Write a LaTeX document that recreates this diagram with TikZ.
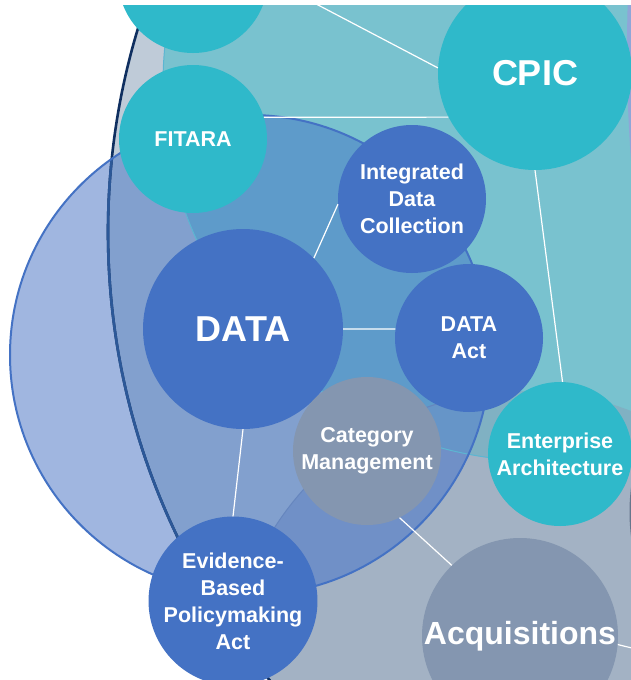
\documentclass[tikz,border=0pt]{standalone}
\usepackage{fontspec}
\setmainfont{Liberation Sans}

\definecolor{bigfill}{HTML}{BFCBD8}
\definecolor{grayfill}{HTML}{A3B2C4}
\definecolor{tealfill}{HTML}{79C2CF}
\definecolor{tealgray}{HTML}{80B1C3}
\definecolor{bluefill}{HTML}{A0B6E0}
\definecolor{bluebig}{HTML}{82A0CE}
\definecolor{blueteal}{HTML}{5E9BCA}
\definecolor{bluegray}{HTML}{7090C7}
\definecolor{bluetealgray}{HTML}{6695C8}
\definecolor{lavender}{HTML}{8FA6D8}
\definecolor{edgegray}{HTML}{66768C}
\definecolor{navyedge}{HTML}{0F2F60}
\definecolor{navyinblue}{HTML}{2C5898}
\definecolor{blueedge}{HTML}{4472C4}
\definecolor{tealedge}{HTML}{5CB6D2}
\definecolor{grayedge}{HTML}{6686BE}
\definecolor{tealnodefill}{HTML}{2FB9CA}
\definecolor{bluenodefill}{HTML}{4472C4}
\definecolor{graynodefill}{HTML}{8496B0}

\begin{document}
\begin{tikzpicture}[x=1pt, y=-1pt,
  every node/.style={font=\fontsize{21.5}{27}\selectfont\bfseries, text=white, align=center},
  bubble/.style={circle, inner sep=0pt, minimum size=148pt},
  tealnode/.style={bubble, fill=tealnodefill},
  bluenode/.style={bubble, fill=bluenodefill},
  graynode/.style={bubble, fill=graynodefill},
  linkline/.style={white, line width=1.2pt}]
  \useasboundingbox (0,0) rectangle (631,680);
  \fill[white] (0,0) rectangle (631,680);

  \begin{scope}
  \clip (0,5) rectangle (631,680);

  % outer set and the three overlapping sets
  \fill[bigfill] (810,232) circle (702pt);
  \begin{scope}
    \clip (810,232) circle (702pt);
    \fill[grayfill] (524,687) circle (296pt);
  \end{scope}
  \fill[tealfill] (540,84) circle (377pt);
  \begin{scope}
    \clip (540,84) circle (377pt);
    \fill[tealgray] (524,687) circle (296pt);
  \end{scope}
  \draw[tealedge, line width=1pt] (540,84) circle (377pt);

  % sets cut off at the right edge
  \fill[lavender] (2127,50) circle (1500pt);
  \fill[edgegray] (829.5,512) circle (200pt);

  % data set
  \fill[bluefill] (250,355) circle (240pt);
  \begin{scope}
    \clip (250,355) circle (240pt);
    \fill[bluebig] (810,232) circle (702pt);
    \fill[blueteal] (540,84) circle (377pt);
    \fill[bluegray] (524,687) circle (296pt);
    \begin{scope}
      \clip (540,84) circle (377pt);
      \fill[bluetealgray] (524,687) circle (296pt);
    \end{scope}
    \draw[tealedge, line width=1pt] (540,84) circle (377pt);
    \draw[grayedge, line width=1pt] (524,687) circle (296pt);
  \end{scope}

  % outer boundary
  \draw[navyedge, line width=2.6pt] (810,232) circle (702pt);
  \begin{scope}
    \clip (250,355) circle (240pt);
    \draw[navyinblue, line width=2.6pt] (810,232) circle (702pt);
  \end{scope}
  \draw[blueedge, line width=2pt] (250,355) circle (240pt);

  % bubbles
  \node[tealnode, minimum size=150pt] (topleft) at (193,-22) {};
  \node[tealnode] (fitara) at (193,139) {FITARA};
  \node[tealnode, minimum size=194pt, font=\fontsize{36}{40}\selectfont\bfseries] (cpic) at (535,73) {CPIC};
  \node[bluenode, minimum size=200pt, font=\fontsize{36}{40}\selectfont\bfseries] (data) at (243,329) {DATA};
  \node[bluenode] (idc) at (412,199) {Integrated\\Data\\Collection};
  \node[bluenode] (dataact) at (469,338) {DATA\\Act};
  \node[graynode] (catmgmt) at (367,451) {Category\\Management};
  \node[tealnode, minimum size=144pt] (ea) at (560,454) {Enterprise\\Architecture};
  \node[bluenode] (ebpa) at (233,601) {Evidence-\\Based\\Policymaking\\Act};
  \node[graynode, minimum size=196pt, font=\fontsize{32}{36}\selectfont\bfseries] (acq) at (520,636) {Acquisitions};

  % links
  \coordinate (topend) at (299,-5);
  \coordinate (acqend) at (640,650);
  \draw[linkline] (topend) -- (cpic.177);
  \draw[linkline] (fitara.17) -- (cpic.207);
  \draw[linkline] (cpic.south) -- (ea.88);
  \draw[linkline] (data.45) -- (idc.184);
  \draw[linkline] (data.east) -- (dataact.173);
  \draw[linkline] (data.south) -- (ebpa.north);
  \draw[linkline] (catmgmt.-64) -- (acq.134);
  \draw[linkline] (acq.-5) -- (acqend);
  \end{scope}
\end{tikzpicture}
\end{document}
